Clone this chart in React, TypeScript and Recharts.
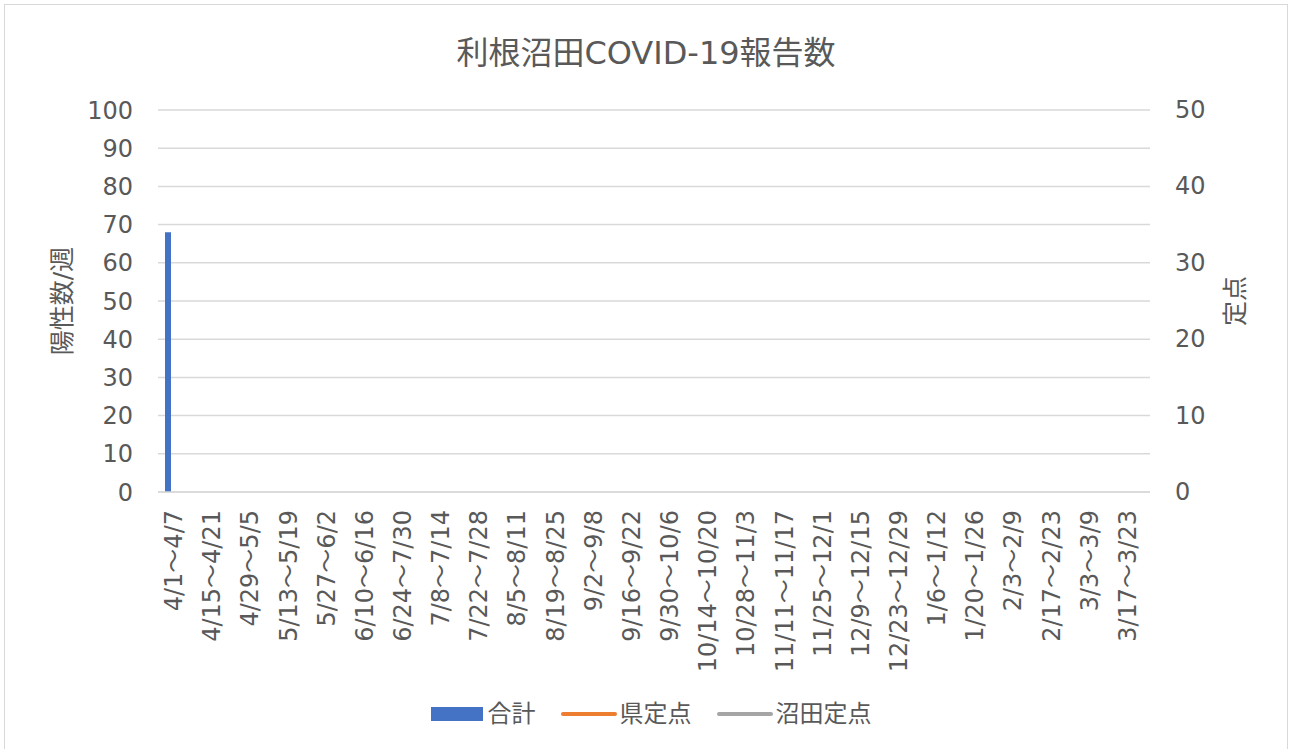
import React from 'react';
import {
  ComposedChart,
  Bar,
  Line,
  XAxis,
  YAxis,
  CartesianGrid,
  Legend,
} from 'recharts';

const weeks: string[] = [
  '4/1～4/7', '4/8～4/14', '4/15～4/21', '4/22～4/28', '4/29～5/5', '5/6～5/12',
  '5/13～5/19', '5/20～5/26', '5/27～6/2', '6/3～6/9', '6/10～6/16', '6/17～6/23',
  '6/24～7/30', '7/1～7/7', '7/8～7/14', '7/15～7/21', '7/22～7/28', '7/29～8/4',
  '8/5～8/11', '8/12～8/18', '8/19～8/25', '8/26～9/1', '9/2～9/8', '9/9～9/15',
  '9/16～9/22', '9/23～9/29', '9/30～10/6', '10/7～10/13', '10/14～10/20', '10/21～10/27',
  '10/28～11/3', '11/4～11/10', '11/11～11/17', '11/18～11/24', '11/25～12/1', '12/2～12/8',
  '12/9～12/15', '12/16～12/22', '12/23～12/29', '12/30～1/5', '1/6～1/12', '1/13～1/19',
  '1/20～1/26', '1/27～2/2', '2/3～2/9', '2/10～2/16', '2/17～2/23', '2/24～3/2',
  '3/3～3/9', '3/10～3/16', '3/17～3/23', '3/24～3/30',
];

const totalCases: (number | null)[] = [
  68, null, null, null, null, null, null, null, null, null, null, null, null,
  null, null, null, null, null, null, null, null, null, null, null, null, null,
  null, null, null, null, null, null, null, null, null, null, null, null, null,
  null, null, null, null, null, null, null, null, null, null, null, null, null,
];

const prefSentinel: (number | null)[] = [
  null, null, null, null, null, null, null, null, null, null, null, null, null,
  null, null, null, null, null, null, null, null, null, null, null, null, null,
  null, null, null, null, null, null, null, null, null, null, null, null, null,
  null, null, null, null, null, null, null, null, null, null, null, null, null,
];

const numataSentinel: (number | null)[] = [
  null, null, null, null, null, null, null, null, null, null, null, null, null,
  null, null, null, null, null, null, null, null, null, null, null, null, null,
  null, null, null, null, null, null, null, null, null, null, null, null, null,
  null, null, null, null, null, null, null, null, null, null, null, null, null,
];

const leftTicks: number[] = [0, 10, 20, 30, 40, 50, 60, 70, 80, 90, 100];
const rightTicks: number[] = [0, 10, 20, 30, 40, 50];
const legendOrder: string[] = ['合計', '県定点', '沼田定点'];

const data = weeks.map((w, i) => ({
  week: w,
  total: totalCases[i],
  pref: prefSentinel[i],
  numata: numataSentinel[i],
}));

const FONT = '"DejaVu Sans", "Noto Sans CJK JP", sans-serif';
const TEXT = '#595959';

const XTick = (props: any) => {
  const { x, y, payload } = props;
  return (
    <text
      transform={`translate(${x + 6.5},${y}) rotate(-90)`}
      textAnchor="end"
      dominantBaseline="central"
      fill={TEXT}
      fontSize={24}
      fontFamily={FONT}
    >
      {payload.value}
    </text>
  );
};

const RightTick = (props: any) => {
  const { x, y, payload } = props;
  return (
    <text
      x={x}
      y={y}
      textAnchor="start"
      dominantBaseline="central"
      fill={TEXT}
      fontSize={24}
      fontFamily={FONT}
    >
      {payload.value}
    </text>
  );
};

const LegendContent = (props: any) => {
  const payload = [...(props.payload || [])].sort(
    (a: any, b: any) => legendOrder.indexOf(a.value) - legendOrder.indexOf(b.value)
  );
  return (
    <div
      style={{
        display: 'flex',
        justifyContent: 'center',
        alignItems: 'center',
        height: 30,
        fontFamily: FONT,
        fontSize: 24,
        color: TEXT,
        paddingLeft: 12,
      }}
    >
      {payload.map((entry: any, i: number) => (
        <div
          key={i}
          style={{ display: 'flex', alignItems: 'center', marginRight: i < 2 ? 25 : 0 }}
        >
          {entry.type === 'rect' ? (
            <span style={{ display: 'inline-block', width: 52, height: 14, background: entry.color, marginRight: 5 }} />
          ) : (
            <span style={{ display: 'inline-block', width: 56, height: 4, borderRadius: 2, background: entry.color, marginRight: 3 }} />
          )}
          <span style={{ lineHeight: '30px' }}>{entry.value}</span>
        </div>
      ))}
    </div>
  );
};

const LeftLabel = (props: any) => {
  const { viewBox } = props;
  const cx = viewBox.x + 62;
  const cy = viewBox.y + viewBox.height / 2;
  return (
    <text
      transform={`translate(${cx},${cy}) rotate(-90)`}
      textAnchor="middle"
      dominantBaseline="central"
      fill={TEXT}
      fontSize={25}
      fontFamily={FONT}
    >
      陽性数/週
    </text>
  );
};

const RightLabel = (props: any) => {
  const { viewBox } = props;
  const cx = viewBox.x + 85;
  const cy = viewBox.y + viewBox.height / 2;
  return (
    <text
      transform={`translate(${cx},${cy}) rotate(-90)`}
      textAnchor="middle"
      dominantBaseline="central"
      fill={TEXT}
      fontSize={25}
      fontFamily={FONT}
    >
      定点
    </text>
  );
};

export default function App() {
  return (
    <div style={{ position: 'absolute', left: 0, top: 0, width: 1290, height: 749, background: '#fff', overflow: 'hidden' }}>
      <div
        style={{
          position: 'absolute',
          left: 4,
          top: 4,
          width: 1284,
          height: 760,
          border: '1.5px solid #d9d9d9',
          boxSizing: 'border-box',
        }}
      />
      <div
        style={{
          position: 'absolute',
          left: 0,
          top: 33,
          width: 1292,
          textAlign: 'center',
          fontFamily: FONT,
          fontSize: 32,
          lineHeight: '40px',
          color: TEXT,
        }}
      >
        利根沼田COVID-19報告数
      </div>
      <div style={{ position: 'absolute', left: 0, top: 0 }}>
        <ComposedChart
          width={1290}
          height={749}
          data={data}
          margin={{ top: 110, right: 0, left: 0, bottom: 27 }}
        >
          <CartesianGrid vertical={false} stroke="#d9d9d9" strokeWidth={1.5} yAxisId="left" />
          <XAxis
            dataKey="week"
            interval={1}
            tickLine={false}
            axisLine={{ stroke: '#d9d9d9', strokeWidth: 1.5 }}
            tick={<XTick />}
            tickMargin={12}
            height={200}
          />
          <YAxis
            yAxisId="left"
            orientation="left"
            width={158}
            domain={[0, 100]}
            ticks={leftTicks}
            interval={0}
            axisLine={false}
            tickLine={false}
            tickMargin={19}
            tick={{ fill: TEXT, fontSize: 24, fontFamily: FONT }}
            label={<LeftLabel />}
          />
          <YAxis
            yAxisId="right"
            orientation="right"
            width={140}
            type="number"
            domain={[0, 50]}
            allowDataOverflow={true}
            ticks={rightTicks}
            interval={0}
            axisLine={false}
            tickLine={false}
            tickMargin={19}
            tick={<RightTick />}
            label={<RightLabel />}
          />
          <Legend
            verticalAlign="bottom"
            content={<LegendContent />}
            wrapperStyle={{ position: 'absolute', top: 699, left: 0, width: 1290, height: 30 }}
          />
          <Bar
            yAxisId="left"
            dataKey="total"
            name="合計"
            fill="#4472c4"
            barSize={6}
            isAnimationActive={false}
          />
          <Line
            yAxisId="right"
            dataKey="pref"
            name="県定点"
            stroke="#ed7d31"
            strokeWidth={3}
            dot={false}
            isAnimationActive={false}
          />
          <Line
            yAxisId="right"
            dataKey="numata"
            name="沼田定点"
            stroke="#a5a5a5"
            strokeWidth={3}
            dot={false}
            isAnimationActive={false}
          />
        </ComposedChart>
      </div>
    </div>
  );
}
